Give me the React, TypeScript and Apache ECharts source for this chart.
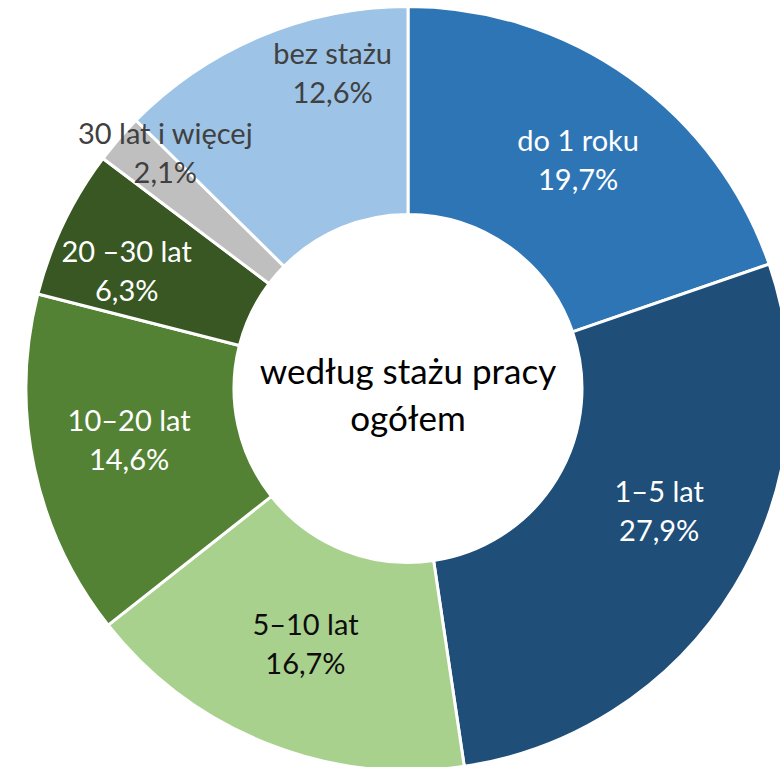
import React, { useEffect, useRef } from "react";
import * as echarts from "echarts";

const categories = ["do 1 roku", "1–5 lat", "5–10 lat", "10–20 lat", "20 –30 lat", "30 lat i więcej", "bez stażu"];
const shares = [19.7, 27.9, 16.7, 14.6, 6.3, 2.1, 12.6];
const sliceColors = ["#2E75B6", "#1F4E79", "#A9D18E", "#548235", "#385723", "#BFBFBF", "#9DC3E6"];
const labelColors = ["#FFFFFF", "#FFFFFF", "#0D0D0D", "#FFFFFF", "#FFFFFF", "#404040", "#404040"];
const labelShift = [[7, -1], [11, -24], [1, -7], [-4, -8], [-28, 3], [-30, -53], [33, -57]];
const centerTitle = "według stażu pracy\nogółem";

const FONT = "Lato";

export default function App() {
  const ref = useRef<HTMLDivElement>(null);
  useEffect(() => {
    if (!ref.current) return;
    const chart = echarts.init(ref.current, undefined, { renderer: "svg" });
    chart.setOption({
      animation: false,
      backgroundColor: "#FFFFFF",
      graphic: [
        {
          type: "text",
          x: 408,
          y: 393,
          z: 10,
          style: {
            text: centerTitle,
            fill: "#000000",
            fontFamily: FONT,
            fontSize: 35,
            align: "center",
            verticalAlign: "middle",
            lineHeight: 47,
          },
        },
      ],
      series: [
        {
          type: "pie",
          center: [408, 388.5],
          radius: [174, 382],
          startAngle: 90,
          clockwise: true,
          avoidLabelOverlap: false,
          itemStyle: { borderColor: "#FFFFFF", borderWidth: 3 },
          label: {
            show: true,
            position: "inside",
            fontFamily: FONT,
            fontSize: 29,
            lineHeight: 39,
            align: "center",
            rotate: 0,
          },
          labelLine: { show: false },
          labelLayout: (params: any) => ({
            dx: labelShift[params.dataIndex][0],
            dy: labelShift[params.dataIndex][1],
          }),
          emphasis: { disabled: true },
          data: categories.map((name, i) => ({
            name,
            value: shares[i],
            itemStyle: { color: sliceColors[i] },
            label: {
              color: labelColors[i],
              formatter: `${name}\n${shares[i].toFixed(1).replace(".", ",")}%`,
            },
          })),
        },
      ],
    });
    return () => chart.dispose();
  }, []);
  return <div ref={ref} style={{ position: "absolute", left: 0, top: 0, width: 780, height: 767 }} />;
}
